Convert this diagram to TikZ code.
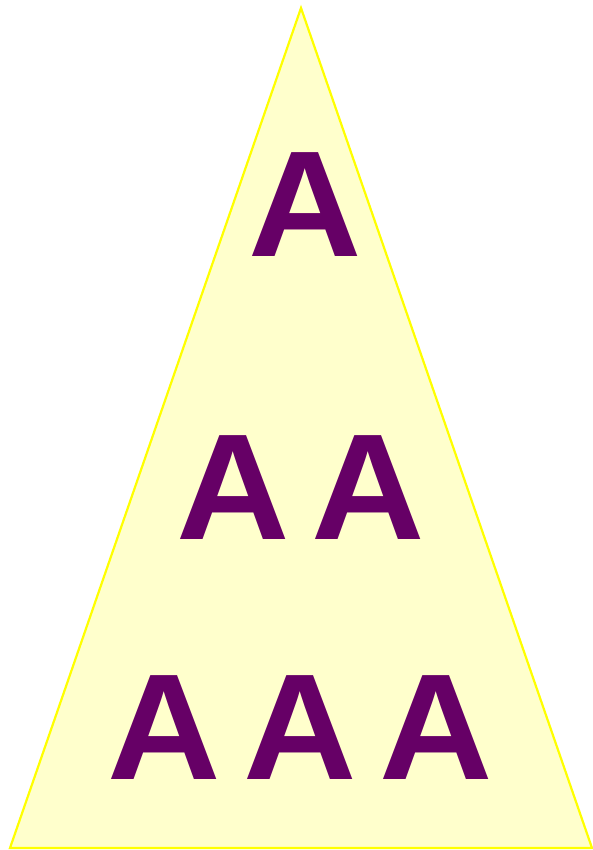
\documentclass[tikz,border=0pt]{standalone}
\usepackage{fontspec}
\setmainfont{Liberation Sans}
\definecolor{trifill}{HTML}{FFFFCC}
\definecolor{tristroke}{HTML}{FFFF00}
\definecolor{letter}{HTML}{660066}
\begin{document}
\begin{tikzpicture}[x=1pt,y=-1pt,
  letterA/.style={inner sep=0pt,outer sep=0pt,text=letter,xscale=1.04,font=\fontsize{151}{151}\selectfont\bfseries}]
\useasboundingbox (0,0) rectangle (592,850);
\coordinate (top) at (301,8);
\coordinate (bl) at (10,848);
\coordinate (br) at (592,848);
\draw[fill=trifill,draw=tristroke,line width=2.2pt,line join=miter] (top) -- (br) -- (bl) -- cycle;
\node[letterA] (a1) at (305,205) {A};
\node[letterA] (a2) at (233,487.5) {A};
\node[letterA] (a3) at (368.5,487.5) {A};
\node[letterA] (a4) at (164,727.5) {A};
\node[letterA] (a5) at (300,727.5) {A};
\node[letterA] (a6) at (436,727.5) {A};
\end{tikzpicture}
\end{document}
